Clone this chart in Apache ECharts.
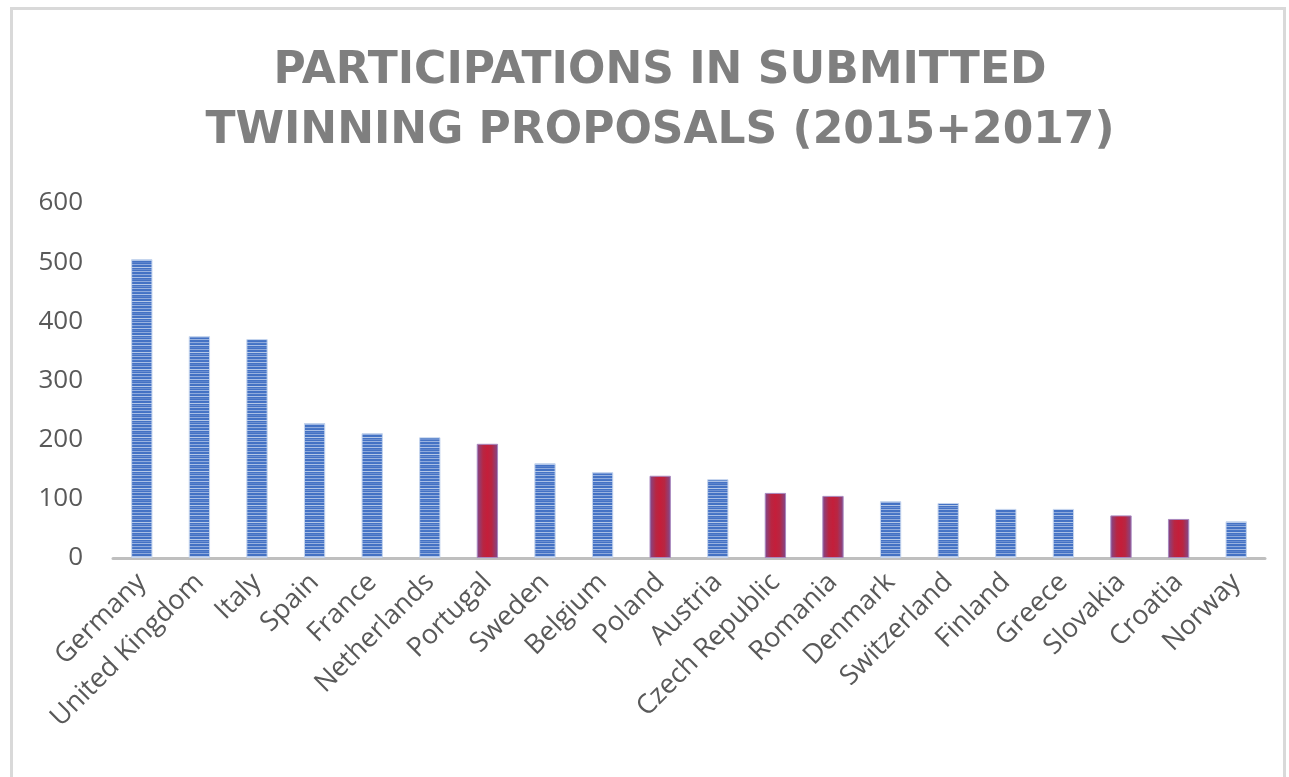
<!DOCTYPE html>
<html>
<head>
<meta charset="utf-8">
<script src="https://cdn.jsdelivr.net/npm/echarts@6/dist/echarts.min.js"></script>
<style>html,body{margin:0;padding:0;background:#fff;}#c{width:1289px;height:777px;}</style>
</head>
<body>
<div id="c"></div>
<script>
const categories = ["Germany","United Kingdom","Italy","Spain","France","Netherlands","Portugal","Sweden","Belgium","Poland","Austria","Czech Republic","Romania","Denmark","Switzerland","Finland","Greece","Slovakia","Croatia","Norway"];
const values = [505, 375, 370, 228, 211, 204, 193, 160, 145, 139, 133, 110, 105, 96, 93, 83, 83, 72, 66, 62];
const highlighted = ["Portugal","Poland","Czech Republic","Romania","Slovakia","Croatia"];
const yTicks = [0, 100, 200, 300, 400, 500, 600];
const titleText = "PARTICIPATIONS IN SUBMITTED\nTWINNING PROPOSALS (2015+2017)";

// striped pattern for blue bars
const stripeRows = ['#4472c4','#4472c4','#8faadc','#4a78c8','#4472c4','#a9bfe6','#4472c4','#5a82cc','#4472c4','#8faadc','#4472c4','#4472c4','#b4c7e7','#4472c4','#6b8fd2','#4472c4','#9ab3e0'];
const pc = document.createElement('canvas');
pc.width = 4; pc.height = stripeRows.length;
const pctx = pc.getContext('2d');
stripeRows.forEach((c, i) => { pctx.fillStyle = c; pctx.fillRect(0, i, 4, 1); });

const redGrad = new echarts.graphic.LinearGradient(0, 0, 1, 0, [
  {offset: 0, color: '#7d4a8e'},
  {offset: 0.3, color: '#b82642'},
  {offset: 0.5, color: '#c41e3a'},
  {offset: 0.7, color: '#b82642'},
  {offset: 1, color: '#7d4a8e'}
]);

const data = categories.map((c, i) => {
  const red = highlighted.includes(c);
  return {
    value: values[i],
    itemStyle: red
      ? {color: redGrad, borderColor: '#a888bf', borderWidth: 1}
      : {color: {image: pc, repeat: 'repeat'}, borderColor: '#c5d5ee', borderWidth: 1}
  };
});

const chart = echarts.init(document.getElementById('c'));
chart.setOption({
  animation: false,
  backgroundColor: '#fff',
  title: {
    text: titleText,
    left: 655,
    textAlign: 'center',
    top: 37,
    textStyle: {fontFamily: 'DejaVu Sans', fontWeight: 'bold', fontSize: 44, color: '#7f7f7f', lineHeight: 60}
  },
  graphic: [{
    type: 'rect', left: 9, top: 6, silent: true,
    shape: {width: 1273, height: 900},
    style: {fill: 'none', stroke: '#d9d9d9', lineWidth: 3}
  }],
  grid: {left: 113, right: 24, top: 203, bottom: 219, containLabel: false},
  xAxis: {
    type: 'category',
    data: categories,
    axisLine: {lineStyle: {color: '#bfbfbf', width: 3}},
    axisTick: {show: false},
    axisLabel: {interval: 0, rotate: 45, margin: 20, fontFamily: 'Open Sans', fontSize: 27, color: '#595959'}
  },
  yAxis: {
    type: 'value',
    min: 0, max: 600, interval: 100,
    axisLine: {show: false},
    axisTick: {show: false},
    splitLine: {show: false},
    axisLabel: {margin: 30, fontFamily: 'Open Sans', fontSize: 26, color: '#595959',
      formatter: v => yTicks.includes(v) ? String(v) : ''}
  },
  series: [{
    type: 'bar',
    data: data,
    barWidth: '37%'
  }]
});
</script>
</body>
</html>
